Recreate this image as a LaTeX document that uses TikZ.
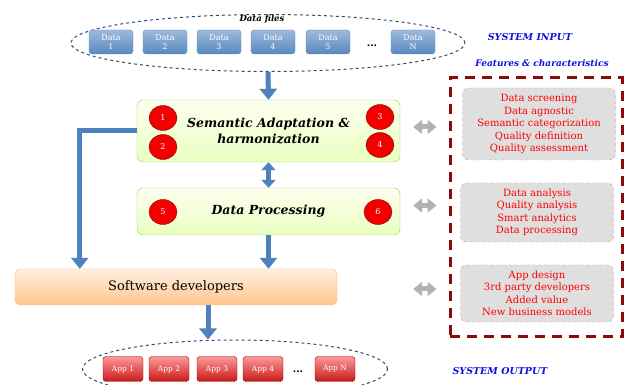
\documentclass[tikz,border=0pt]{standalone}
\usepackage{fontspec}
\setmainfont{DejaVu Serif}
\usetikzlibrary{arrows.meta,shapes.geometric}

\definecolor{flowblue}{HTML}{4F81BD}
\definecolor{framered}{HTML}{8B0A0A}
\definecolor{titleblue}{HTML}{1010E0}

\begin{document}
\begin{tikzpicture}[x=1pt, y=-1pt,
    datafile/.style = {rectangle, rounded corners=3pt, draw=flowblue!90,
top color=flowblue!55, bottom color=flowblue!95, text=white,
minimum width=44pt, minimum height=24pt, inner sep=1pt,
align=center, font=\fontsize{8}{9}\selectfont},
    appbox/.style = {rectangle, rounded corners=3pt, draw=red!60!black,
top color=red!40, bottom color=red!75!black!90, text=white,
minimum width=40pt, minimum height=25pt, inner sep=1pt,
font=\fontsize{7.5}{8.5}\selectfont},
    stage/.style = {rectangle, rounded corners=6pt, draw=green!45!olive!60,
top color=green!8!yellow!6, bottom color=green!35!yellow!25,
minimum width=263pt, font=\bfseries\itshape\fontsize{12.5}{16}\selectfont, align=center},
    badge/.style = {ellipse, draw=red!50!black, fill=red!95!black, text=white,
minimum width=28pt, minimum height=25pt, inner sep=0pt,
font=\fontsize{8}{9}\selectfont},
    feature/.style = {rectangle, rounded corners=6pt, draw=gray!70, dashed,
fill=gray!25, text=red, minimum width=153pt, align=center,
font=\fontsize{10}{12.5}\selectfont},
    group/.style = {ellipse, draw=flowblue!60!black, dashed, line width=1pt},
    caption/.style = {text=titleblue, font=\bfseries\itshape\fontsize{9.5}{11}\selectfont},
    bluearrow/.style = {draw=flowblue, line width=5pt,
-{Triangle[width=17pt,length=11pt]}},
    bluedouble/.style = {draw=flowblue, line width=5pt,
{Triangle[width=14pt,length=8pt]}-{Triangle[width=14pt,length=8pt]}},
    grayarrow/.style = {draw=gray!60, line width=5pt,
{Triangle[width=14pt,length=9pt]}-{Triangle[width=14pt,length=9pt]}}
]
  \useasboundingbox (0,0) rectangle (625,385);

  % system input
  \node (inputs) [group, minimum width=394pt, minimum height=57pt] at (268,43) {};
  \node (filestitle) [font=\bfseries\itshape\fontsize{8.5}{10}\selectfont] at (262,19) {Data files};
  \node (data1) [datafile] at (111,42) {Data\\1};
  \node (data2) [datafile] at (165,42) {Data\\2};
  \node (data3) [datafile] at (219,42) {Data\\3};
  \node (data4) [datafile] at (273,42) {Data\\4};
  \node (data5) [datafile] at (328,42) {Data\\5};
  \node (datadots) [font=\bfseries] at (372,46) {...};
  \node (dataN) [datafile] at (413,42) {Data\\N};
  \node (intitle) [caption] at (530,37) {SYSTEM INPUT};
  \node (feattitle) [caption, font=\bfseries\itshape\fontsize{9}{10}\selectfont] at (542,63) {Features \& characteristics};

  % stages
  \node (semantic) [stage, minimum height=62pt] at (268.5,131) {Semantic Adaptation \&\\harmonization};
  \node (b1) [badge] at (163,118) {1};
  \node (b2) [badge] at (163,147) {2};
  \node (b3) [badge] at (380,117) {3};
  \node (b4) [badge] at (380,145) {4};
  \node (process) [stage, minimum height=47pt] at (268.5,211.5) {Data Processing};
  \node (b5) [badge] at (163,212) {5};
  \node (b6) [badge] at (378,212) {6};
  \node (software) [rectangle, rounded corners=5pt, draw=orange!60,
top color=orange!12, bottom color=orange!45, minimum width=322pt,
minimum height=36pt, font=\fontsize{13}{15}\selectfont] at (176,287) {Software developers};

  % features & characteristics
  \node (features) [draw=framered, line width=3pt, dash pattern=on 10pt off 7pt,
minimum width=172pt, minimum height=259pt] at (536,207.5) {};
  \node (screening) [feature, minimum height=72pt] at (539,124) {Data screening\\Data agnostic\\Semantic categorization\\Quality definition\\Quality assessment};
  \node (analysis) [feature, minimum height=59pt] at (537,212.5) {Data analysis\\Quality analysis\\Smart analytics\\Data processing};
  \node (business) [feature, minimum height=57pt] at (537,293.5) {App design\\3rd party developers\\Added value\\New business models};

  % system output
  \node (outputs) [group, minimum width=305pt, minimum height=58pt] at (235,369) {};
  \node (app1) [appbox] at (123,369) {App 1};
  \node (app2) [appbox] at (169,369) {App 2};
  \node (app3) [appbox] at (217,369) {App 3};
  \node (app4) [appbox] at (263,369) {App 4};
  \node (appdots) [font=\bfseries] at (298,372) {...};
  \node (appN) [appbox] at (335,369) {App N};
  \node (outtitle) [caption] at (500,371) {SYSTEM OUTPUT};

  % flows
  \draw[bluearrow] (inputs.south) -- (semantic.north);
  \draw[bluedouble] (semantic.south) -- (process.north);
  \draw[bluearrow] (process.south) -- (process.south |- software.north);
  \draw[bluearrow] (semantic.west) -| ([xshift=65pt]software.north west);
  \draw[bluearrow] ([xshift=32pt]software.south) -- ([xshift=32pt]software.south |- outputs.north);
  \draw[grayarrow, shorten <=13pt, shorten >=12pt] ([yshift=4pt]semantic.east) -- ([yshift=4pt]semantic.east -| features.west);
  \draw[grayarrow, shorten <=13pt, shorten >=12pt] ([yshift=6pt]process.east) -- ([yshift=6pt]process.east -| features.west);
  \draw[grayarrow, shorten <=76pt, shorten >=12pt] ([yshift=-2pt]software.east) -- ([yshift=-2pt]software.east -| features.west);

\end{tikzpicture}
\end{document}
